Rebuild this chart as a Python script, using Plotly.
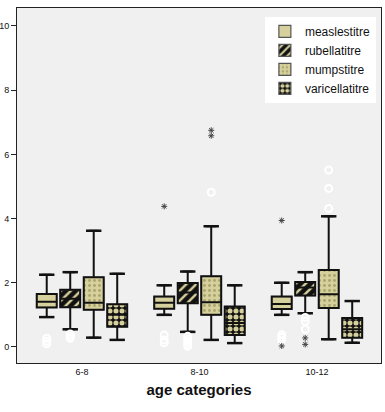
import plotly.graph_objects as go

categories = ["6-8", "8-10", "10-12"]
series = ["measlestitre", "rubellatitre", "mumpstitre", "varicellatitre"]

# box statistics per series, one value per age category
lower = {
    "measlestitre": [0.93, 1.00, 1.00],
    "rubellatitre": [0.55, 0.47, 1.05],
    "mumpstitre": [0.29, 0.22, 0.24],
    "varicellatitre": [0.22, 0.12, 0.13],
}
q1 = {
    "measlestitre": [1.23, 1.19, 1.18],
    "rubellatitre": [1.24, 1.36, 1.60],
    "mumpstitre": [1.16, 1.00, 1.21],
    "varicellatitre": [0.63, 0.37, 0.29],
}
median = {
    "measlestitre": [1.41, 1.38, 1.34],
    "rubellatitre": [1.50, 1.70, 1.85],
    "mumpstitre": [1.38, 1.39, 1.64],
    "varicellatitre": [1.00, 0.75, 0.55],
}
q3 = {
    "measlestitre": [1.65, 1.57, 1.57],
    "rubellatitre": [1.78, 1.99, 2.02],
    "mumpstitre": [2.17, 2.20, 2.40],
    "varicellatitre": [1.33, 1.26, 0.90],
}
upper = {
    "measlestitre": [2.25, 1.92, 2.00],
    "rubellatitre": [2.33, 2.35, 2.33],
    "mumpstitre": [3.62, 3.76, 4.07],
    "varicellatitre": [2.28, 1.92, 1.43],
}
# outliers (circles) and extremes (stars): (category, value)
outliers = {
    "measlestitre": [("6-8", 0.27), ("6-8", 0.18), ("6-8", 0.10),
                     ("8-10", 0.37), ("8-10", 0.22), ("8-10", 0.13),
                     ("10-12", 0.38), ("10-12", 0.30), ("10-12", 0.22)],
    "rubellatitre": [("6-8", 0.40), ("6-8", 0.33), ("6-8", 0.27),
                     ("8-10", 0.33), ("8-10", 0.25), ("8-10", 0.17), ("8-10", 0.09), ("8-10", 0.02),
                     ("10-12", 0.92), ("10-12", 0.80), ("10-12", 0.55)],
    "mumpstitre": [("8-10", 4.82), ("10-12", 4.31), ("10-12", 4.94), ("10-12", 5.51)],
    "varicellatitre": [],
}
extremes = {
    "measlestitre": [("8-10", 4.38), ("10-12", 3.94), ("10-12", 0.03)],
    "rubellatitre": [("10-12", 0.28), ("10-12", 0.08)],
    "mumpstitre": [("8-10", 6.75), ("8-10", 6.58)],
    "varicellatitre": [],
}

KHAKI = "#D6D09C"
BLACK = "#111111"
base_colors = {
    "measlestitre": KHAKI,
    "rubellatitre": BLACK,
    "mumpstitre": KHAKI,
    "varicellatitre": BLACK,
}
patterns = {
    "measlestitre": dict(shape=""),
    "rubellatitre": dict(shape="/", fillmode="replace", bgcolor=BLACK, fgcolor=KHAKI, size=7, solidity=0.35),
    "mumpstitre": dict(shape=".", fillmode="replace", bgcolor=KHAKI, fgcolor="#A9A36E", size=5, solidity=0.25),
    "varicellatitre": dict(shape=".", fillmode="replace", bgcolor=BLACK, fgcolor=KHAKI, size=6, solidity=0.55),
}

fig = go.Figure()

for s in series:
    fig.add_trace(go.Bar(
        x=categories,
        y=[b - a for a, b in zip(q1[s], q3[s])],
        base=q1[s],
        name=s,
        offsetgroup=s,
        marker=dict(color=base_colors[s], pattern=patterns[s], line=dict(color="#555555", width=1.2)),
        hoverinfo="skip",
    ))

for s in series:
    fig.add_trace(go.Box(
        x=categories,
        q1=q1[s], median=median[s], q3=q3[s],
        lowerfence=lower[s], upperfence=upper[s],
        name=s, offsetgroup=s, showlegend=False,
        fillcolor="rgba(0,0,0,0)",
        line=dict(color=BLACK, width=2),
        boxpoints=False,
    ))

for s in series:
    fig.add_trace(go.Scatter(
        x=categories * 2,
        y=lower[s] + upper[s],
        mode="markers", offsetgroup=s, showlegend=False,
        marker=dict(symbol="line-ew", size=11, color=BLACK, line=dict(color=BLACK, width=2.5)),
        hoverinfo="skip",
    ))
    if outliers[s]:
        fig.add_trace(go.Scatter(
            x=[c for c, v in outliers[s]], y=[v for c, v in outliers[s]],
            mode="markers", offsetgroup=s, showlegend=False,
            marker=dict(symbol="circle-open", size=7, color="white", line=dict(color="white", width=2)),
            hoverinfo="skip",
        ))
    if extremes[s]:
        fig.add_trace(go.Scatter(
            x=[c for c, v in extremes[s]], y=[v for c, v in extremes[s]],
            mode="markers", offsetgroup=s, showlegend=False,
            marker=dict(symbol="asterisk-open", size=5, color="#444444", line=dict(color="#444444", width=1)),
            hoverinfo="skip",
        ))

fig.update_layout(
    width=385, height=412,
    margin=dict(l=17, r=4, t=8, b=49),
    paper_bgcolor="white", plot_bgcolor="#F0F0F0",
    font=dict(family="Liberation Sans, Arial, sans-serif", color=BLACK),
    barmode="group", bargap=0.2, bargroupgap=0.15,
    boxmode="group", boxgap=0.2, boxgroupgap=0.15,
    scattermode="group", scattergap=0.2,
    showlegend=True,
    legend=dict(x=0.681, y=0.975, xanchor="left", yanchor="top",
                bgcolor="white", borderwidth=0, font=dict(size=12),
                itemwidth=30, tracegroupgap=0, traceorder="normal"),
)
fig.update_xaxes(
    type="category", categoryorder="array", categoryarray=categories,
    range=[-0.553, 2.545], showgrid=False, zeroline=False, automargin=False,
    showline=True, linecolor="#222222", linewidth=1, mirror=True,
    ticks="", tickfont=dict(size=9),
    title=dict(text="<b>age categories</b>", font=dict(size=15), standoff=8),
)
fig.update_yaxes(
    range=[-0.5, 10.56], tickvals=[0, 2, 4, 6, 8, 10], showgrid=False, zeroline=False,
    automargin=False,
    showline=True, linecolor="#222222", linewidth=1, mirror=True,
    ticks="outside", ticklen=5, tickcolor="#222222", tickfont=dict(size=9),
)

fig.write_html(
    "out.html",
    config={"displayModeBar": False},
    post_script="document.body.style.margin='0';document.body.style.overflow='hidden';",
)
